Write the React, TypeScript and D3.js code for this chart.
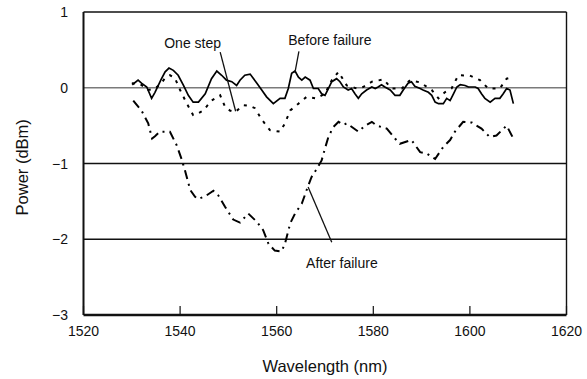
import React from "react";
import * as d3 from "d3";

const xTicks = [1520, 1540, 1560, 1580, 1600, 1620];
const yTicks = [1, 0, -1, -2, -3];
const yTickLabels = ["1", "0", "\u22121", "\u22122", "\u22123"];
const gridValues = [0, -1, -2];

const beforeNm = [1530.1, 1531.3, 1532.0, 1533.1, 1534.1, 1534.8, 1536.0, 1536.9, 1537.7, 1538.6, 1539.6, 1540.7, 1541.7, 1542.7, 1543.8, 1545.2, 1546.5, 1547.6, 1548.6, 1549.6, 1550.7, 1551.7, 1552.4, 1553.4, 1554.5, 1555.9, 1556.9, 1557.9, 1559.3, 1560.7, 1561.7, 1562.4, 1563.1, 1563.8, 1564.5, 1565.2, 1565.9, 1566.9, 1567.6, 1568.6, 1569.3, 1570.0, 1570.7, 1571.4, 1572.4, 1573.1, 1573.8, 1574.8, 1575.5, 1576.2, 1576.9, 1577.6, 1578.6, 1579.7, 1580.4, 1581.0, 1581.7, 1582.4, 1583.5, 1584.5, 1585.5, 1586.2, 1587.2, 1587.9, 1588.6, 1589.7, 1590.3, 1591.4, 1592.1, 1592.8, 1593.5, 1594.5, 1595.2, 1595.9, 1596.6, 1597.3, 1598.0, 1599.0, 1599.7, 1601.1, 1601.7, 1602.4, 1603.1, 1604.2, 1605.2, 1606.2, 1606.9, 1607.6, 1608.3, 1609.0];
const beforeDbm = [0.04, 0.10, 0.06, 0.01, -0.14, -0.06, 0.10, 0.21, 0.26, 0.23, 0.165, 0.03, -0.10, -0.19, -0.19, -0.08, 0.12, 0.22, 0.165, 0.10, 0.08, 0.03, 0.10, 0.165, 0.18, 0.06, -0.03, -0.12, -0.21, -0.14, -0.14, -0.01, 0.19, 0.22, 0.14, 0.10, 0.14, 0.10, -0.01, -0.01, -0.08, -0.10, -0.01, 0.08, 0.12, 0.08, 0.01, -0.03, -0.01, -0.08, -0.14, -0.08, -0.03, 0.01, -0.01, 0.01, 0.04, 0.01, -0.03, -0.10, -0.10, -0.03, 0.06, 0.08, 0.02, -0.01, -0.03, -0.06, -0.10, -0.19, -0.21, -0.21, -0.14, -0.17, -0.08, 0.01, 0.04, 0.03, 0.01, 0.01, -0.01, -0.08, -0.14, -0.19, -0.14, -0.14, -0.08, -0.01, -0.03, -0.21];

const oneStepNm = [1530.0, 1531.7, 1533.4, 1534.8, 1536.0, 1536.9, 1537.9, 1538.9, 1540.0, 1541.4, 1542.7, 1543.7, 1544.8, 1546.5, 1548.3, 1549.3, 1550.3, 1551.4, 1553.1, 1554.5, 1555.5, 1556.9, 1558.6, 1560.7, 1561.7, 1562.8, 1564.5, 1566.2, 1568.1, 1570.0, 1571.4, 1572.8, 1574.5, 1576.6, 1577.9, 1579.7, 1582.1, 1583.8, 1585.9, 1587.6, 1589.7, 1592.1, 1593.5, 1594.8, 1596.2, 1597.6, 1600.0, 1602.1, 1603.8, 1606.2, 1607.6, 1608.9];
const oneStepDbm = [0.06, 0.05, -0.03, -0.01, 0.05, 0.13, 0.165, 0.13, -0.03, -0.21, -0.36, -0.34, -0.30, -0.17, -0.10, -0.25, -0.30, -0.32, -0.23, -0.24, -0.27, -0.42, -0.56, -0.58, -0.47, -0.30, -0.21, -0.12, -0.14, -0.08, 0.10, 0.21, 0.03, -0.01, 0.01, 0.08, 0.11, -0.01, -0.01, 0.10, 0.07, -0.03, -0.14, -0.06, -0.01, 0.165, 0.16, 0.10, -0.01, -0.01, 0.12, 0.14];

const afterNm = [1530.3, 1532.0, 1533.4, 1534.2, 1534.8, 1535.8, 1537.9, 1539.3, 1540.3, 1541.0, 1542.1, 1543.1, 1543.8, 1545.5, 1546.9, 1547.9, 1549.3, 1551.0, 1552.4, 1554.1, 1555.9, 1557.2, 1558.3, 1559.6, 1561.0, 1561.7, 1562.8, 1563.8, 1565.2, 1566.2, 1567.2, 1568.3, 1569.3, 1570.0, 1570.7, 1571.7, 1572.8, 1573.8, 1574.5, 1576.9, 1578.3, 1579.7, 1580.7, 1582.8, 1584.5, 1585.5, 1587.9, 1589.7, 1591.1, 1592.8, 1594.5, 1595.9, 1596.9, 1598.6, 1600.4, 1602.4, 1604.1, 1605.5, 1607.6, 1609.0];
const afterDbm = [-0.17, -0.30, -0.47, -0.67, -0.64, -0.58, -0.58, -0.76, -0.94, -1.09, -1.35, -1.44, -1.47, -1.42, -1.36, -1.42, -1.57, -1.74, -1.78, -1.66, -1.77, -1.88, -2.06, -2.15, -2.16, -2.06, -1.79, -1.66, -1.53, -1.35, -1.18, -1.07, -0.96, -0.80, -0.65, -0.52, -0.45, -0.49, -0.47, -0.58, -0.50, -0.45, -0.50, -0.54, -0.67, -0.74, -0.69, -0.85, -0.87, -0.94, -0.78, -0.69, -0.58, -0.45, -0.46, -0.54, -0.65, -0.63, -0.50, -0.67];

// annotations: label text, label anchor (nm, dBm), leader start and tip (nm, dBm)
const annLabels = ["One step", "Before failure", "After failure"];
const annTextNm = [1542.6, 1571.0, 1573.5];
const annTextDbm = [0.52, 0.57, -2.38];
const annFromNm = [1548.3, 1547.1 + 17.5, 1571.4];
const annFromDbm = [0.47, 0.48, -2.04];
const annToNm = [1551.5, 1563.8, 1566.5];
const annToDbm = [-0.31, 0.21, -1.31];

export default function App() {
  const W = 587, H = 379;
  const x = d3.scaleLinear().domain([1520, 1620]).range([83.5, 566.5]);
  const y = d3.scaleLinear().domain([-3, 1]).range([315, 12]);
  const line = d3.line<[number, number]>().x(d => x(d[0])).y(d => y(d[1]));
  const zip = (a: number[], b: number[]) => a.map((v, i) => [v, b[i]] as [number, number]);
  const font = "Liberation Sans, Arial, Helvetica, sans-serif";

  return (
    <svg width={W} height={H} style={{ position: "absolute", left: 0, top: 0, background: "#fff" }} fontFamily={font}>
      {gridValues.map(v => (
        <line key={v} x1={x(1520)} x2={x(1620)} y1={y(v)} y2={y(v)} stroke={v === 0 ? "#7a7a7a" : "#111"} strokeWidth={v === 0 ? 1.6 : 1.3} />
      ))}
      <line x1={x(1520)} x2={x(1620)} y1={y(1)} y2={y(1)} stroke="#111" strokeWidth={1.4} />
      <line x1={x(1620)} x2={x(1620)} y1={y(1)} y2={y(-3)} stroke="#111" strokeWidth={1.4} />
      <line x1={x(1520)} x2={x(1520)} y1={y(1)} y2={y(-3)} stroke="#111" strokeWidth={2} />
      <line x1={x(1520)} x2={x(1620)} y1={y(-3)} y2={y(-3)} stroke="#111" strokeWidth={2.4} />
      {xTicks.map(t => (
        <g key={t}>
          <line x1={x(t)} x2={x(t)} y1={y(-3)} y2={y(-3) - 9} stroke="#111" strokeWidth={1.2} />
          <text x={x(t)} y={336} textAnchor="middle" fontSize={14} fill="#111">{t}</text>
        </g>
      ))}
      {yTicks.map((t, i) => (
        <text key={t} x={68} y={y(t) + 5} textAnchor="end" fontSize={14} fill="#111">{yTickLabels[i]}</text>
      ))}
      <text x={325} y={372} textAnchor="middle" fontSize={16.5} fill="#111">Wavelength (nm)</text>
      <text transform={`translate(28,${y(-1.05)}) rotate(-90)`} textAnchor="middle" fontSize={16.5} fill="#111">Power (dBm)</text>

      <path d={line(zip(afterNm, afterDbm)) || ""} fill="none" stroke="#000" strokeWidth={2} strokeDasharray="9 5 2 5" />
      <path d={line(zip(oneStepNm, oneStepDbm)) || ""} fill="none" stroke="#000" strokeWidth={2} strokeDasharray="3 6" />
      <path d={line(zip(beforeNm, beforeDbm)) || ""} fill="none" stroke="#000" strokeWidth={1.7} />

      {annLabels.map((s, i) => (
        <g key={s}>
          <text x={x(annTextNm[i])} y={y(annTextDbm[i])} textAnchor="middle" fontSize={14} fill="#111">{s}</text>
          <line x1={x(annFromNm[i])} y1={y(annFromDbm[i])} x2={x(annToNm[i])} y2={y(annToDbm[i])} stroke="#111" strokeWidth={1.3} />
        </g>
      ))}
    </svg>
  );
}
